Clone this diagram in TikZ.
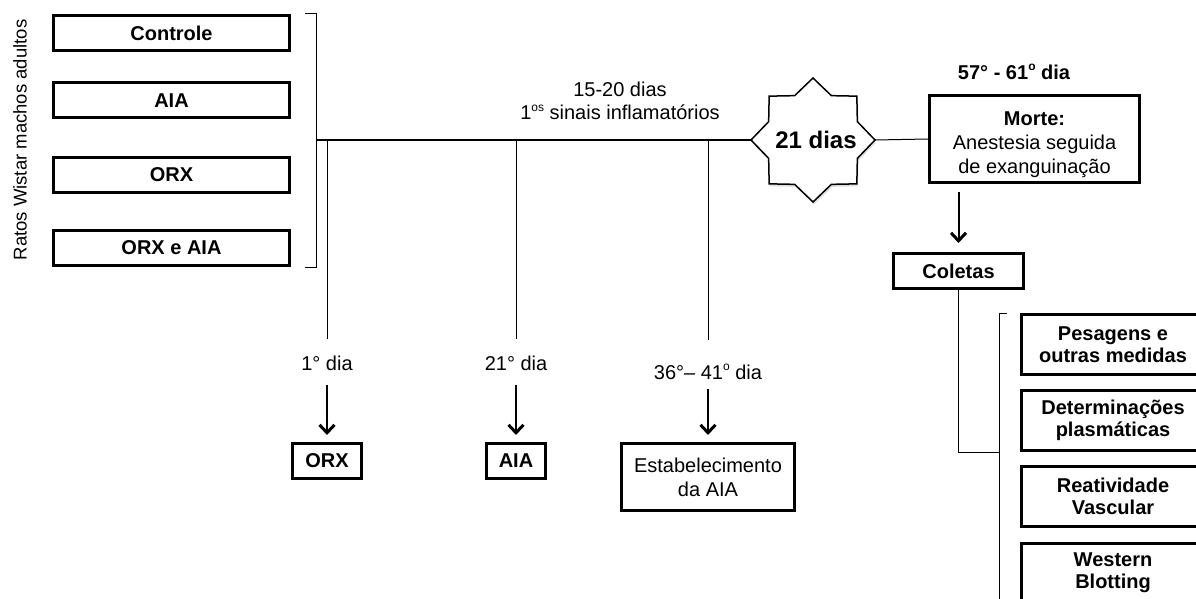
\documentclass[tikz,border=0pt]{standalone}
\usepackage{fontspec}
\setmainfont{Liberation Sans}
\usetikzlibrary{arrows.meta,shadows}
\newcommand{\supo}[1]{\raisebox{0.42em}{\fontsize{12}{12}\selectfont #1}}
\begin{document}
\begin{tikzpicture}[x=1pt,y=-1pt,
  box/.style={draw,line width=3pt,inner sep=0pt,align=center,
    font=\fontsize{20}{22}\selectfont\bfseries},
  rbox/.style={draw,line width=3pt,inner sep=0pt,align=center,
    font=\fontsize{20}{24}\selectfont},
  lbl/.style={inner sep=0pt,align=center,font=\fontsize{20}{23}\selectfont},
  thin/.style={line width=1pt},
  arr/.style={line width=2pt,-{Straight Barb[length=8pt,width=15pt,line width=3pt]}},
  starshape/.style={draw,line width=1.5pt,fill=white,line join=miter,
    drop shadow={shadow xshift=1pt,shadow yshift=-2.5pt,opacity=0.25}},
]
\useasboundingbox (0,0) rectangle (1196,599);
\clip (0,0) rectangle (1196,599);

% left group
\node[rotate=90,inner sep=0pt,font=\fontsize{18.5}{20}\selectfont] (ratos) at (20,140) {Ratos Wistar machos adultos};
\node[box,minimum width=236,minimum height=35] (ctrl) at (171.5,33) {Controle};
\node[box,minimum width=236,minimum height=35] (aia) at (171.5,100.5) {AIA};
\node[box,minimum width=236,minimum height=35] (orx) at (171.5,175) {ORX};
\node[box,minimum width=236,minimum height=35] (orxaia) at (171.5,247.5) {ORX e AIA};

% bracket
\draw[thin] (305,14) -- (316,14) -- (316,267) -- (305,267);
\coordinate (br) at (316,140);

% star (8 points, two overlapping squares)
\begin{scope}[shift={(813,140)}]
\path[starshape] (0:62) -- (22.5:48) -- (45:62) -- (67.5:48) -- (90:62) -- (112.5:48)
  -- (135:62) -- (157.5:48) -- (180:62) -- (202.5:48) -- (225:62) -- (247.5:48)
  -- (270:62) -- (292.5:48) -- (315:62) -- (337.5:48) -- cycle;
\end{scope}
\node[inner sep=0pt,font=\fontsize{24}{26}\selectfont\bfseries] (star) at (816,140) {21 dias};
\coordinate (starW) at (751,140);
\coordinate (starE) at (875,140);

% timeline
\draw[thin] (br) -- (starW);
\coordinate (t1) at (327,140);
\coordinate (t2) at (516,140);
\coordinate (t3) at (708,140);

\node[lbl] (sinais) at (620,101) {15-20 dias\\1\supo{os} sinais inflamatórios};

% death box
\node[font=\fontsize{20}{22}\selectfont\bfseries,inner sep=0pt] (dia) at (1014,72) {57° - 61\supo{o} dia};
\node[draw,line width=3pt,inner sep=0pt,minimum width=210,minimum height=87,align=center,
  font=\fontsize{20}{24}\selectfont] (morte) at (1034.5,139)
  {\rule{0pt}{25pt}\textbf{Morte:}\\Anestesia seguida\\de exanguinação};
\draw[thin] (starE) -- (morte.west);

\node[box,minimum width=130,minimum height=35] (coletas) at (958.5,271) {Coletas};
\draw[arr] ([yshift=-8pt]morte.south -| coletas.north) -- ([yshift=9pt]coletas.north);

% right bracket and boxes
\coordinate (rb) at (999,452);
\draw[thin] (coletas.south) |- (rb);
\draw[thin] (1007,313) -- (999,313) -- (999,610);
\node[box,minimum width=184,minimum height=60] (pes) at (1113,344.5) {Pesagens e\\outras medidas};
\node[box,minimum width=184,minimum height=60] (det) at (1113,420.5) {Determinações\\plasmáticas};
\node[box,minimum width=184,minimum height=60] (rea) at (1113,496) {Reatividade\\Vascular};
\node[box,minimum width=184,minimum height=60] (wes) at (1113,573) {Western\\Blotting};

% lower timeline events
\node[lbl] (l1) at (327,363) {1° dia};
\node[lbl] (l2) at (516,363) {21° dia};
\node[lbl] (l3) at (708,372) {36°– 41\supo{o} dia};
\draw[thin] (t1) -- ([yshift=16pt]l1.north);
\draw[thin] (t2) -- ([yshift=16pt]l2.north);
\draw[thin] (t3) -- ([yshift=24pt]l3.north);

\node[box,minimum width=69,minimum height=35] (bx1) at (327,461) {ORX};
\node[box,minimum width=59,minimum height=35] (bx2) at (516,461) {AIA};
\node[rbox,minimum width=173,minimum height=67] (bx3) at (708,477) {Estabelecimento\\da AIA};
\draw[arr] ([yshift=-14pt]l1.south) -- ([yshift=7pt]bx1.north);
\draw[arr] ([yshift=-14pt]l2.south) -- ([yshift=7pt]bx2.north);
\draw[arr] ([yshift=-9pt]l3.south) -- ([yshift=7pt]bx3.north);
\end{tikzpicture}
\end{document}
